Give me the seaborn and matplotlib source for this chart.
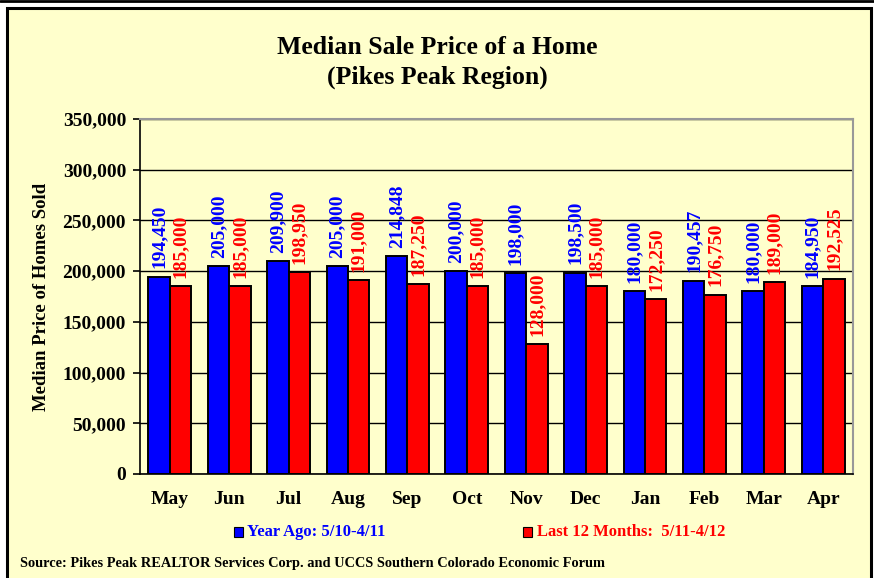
import matplotlib
matplotlib.use("Agg")
import matplotlib.pyplot as plt
import matplotlib.patches as mpatches
import matplotlib.lines as mlines
import numpy as np
import pandas as pd
import seaborn as sns
from matplotlib.ticker import FuncFormatter

months = ["May", "Jun", "Jul", "Aug", "Sep", "Oct", "Nov", "Dec", "Jan", "Feb", "Mar", "Apr"]
year_ago = [194450, 205000, 209900, 205000, 214848, 200000, 198000, 198500, 180000, 190457, 180000, 184950]
last_12 = [185000, 185000, 198950, 191000, 187250, 185000, 128000, 185000, 172250, 176750, 189000, 192525]
series_names = ["Year Ago: 5/10-4/11", "Last 12 Months:  5/11-4/12"]

bg = "#FFFFCC"
blue = "#0000FF"
red = "#FF0000"

df = pd.DataFrame({
    "month": months * 2,
    "price": year_ago + last_12,
    "series": [series_names[0]] * 12 + [series_names[1]] * 12,
})

sns.set_style("white")
plt.rcParams['font.family'] = ['Liberation Serif', 'DejaVu Serif']
plt.rcParams['font.weight'] = 'bold'
plt.rcParams['text.color'] = 'black'
plt.rcParams['xtick.color'] = 'black'
plt.rcParams['ytick.color'] = 'black'
plt.rcParams['axes.labelcolor'] = 'black'

fig = plt.figure(figsize=(8.74, 5.78), dpi=100)
fig.patch.set_facecolor("white")

# outer frame
frame = mpatches.Rectangle((7/874, -0.02), (871-7)/874, 1 - 8/578 + 0.02, transform=fig.transFigure,
                           facecolor=bg, edgecolor="black", linewidth=2.2, zorder=-5)
fig.patches.append(frame)
fig.add_artist(mlines.Line2D([0, 1], [1 - 1/578, 1 - 1/578], color="black", lw=2,
                             transform=fig.transFigure, zorder=-5))

ax = fig.add_axes([140/874, 1 - 474/578, (853-140)/874, (474-119)/578])
ax.set_zorder(2)
ax.set_facecolor(bg)

sns.barplot(data=df, x="month", y="price", hue="series", palette=[blue, red], saturation=1,
            width=0.72, gap=0, ax=ax, edgecolor="black", linewidth=1.4, legend=False, zorder=3)

ax.set_ylim(0, 350000)
ax.set_yticks(np.arange(0, 350001, 50000))
ax.yaxis.set_major_formatter(FuncFormatter(lambda v, p: f"{int(v):,}"))
ax.grid(axis="y", color="black", linewidth=1.0, zorder=0)
ax.set_axisbelow(True)
for s in ["top", "right"]:
    ax.spines[s].set_color("#999999")
    ax.spines[s].set_linewidth(1.5)
for s in ["left", "bottom"]:
    ax.spines[s].set_color("black")
    ax.spines[s].set_linewidth(1.2)
ax.set_xticks(np.arange(-0.5, 12, 1), minor=True)
ax.tick_params(axis="x", which="major", length=0, pad=12, labelsize=14)
ax.tick_params(axis="x", which="minor", length=5, direction="out", color="black", width=1.2)
ax.tick_params(axis="y", length=5, direction="out", color="black", width=1.2, labelsize=14, pad=5, left=True)
for lab in ax.get_xticklabels() + ax.get_yticklabels():
    lab.set_fontweight("bold")
ax.set_xlabel("")
ax.set_ylabel("Median Price of Homes Sold", fontsize=13.5, fontweight="bold")
ax.yaxis.set_label_coords(-0.126, 0.5)

for cont, col in zip(ax.containers, [blue, red]):
    for bar in cont:
        h = bar.get_height()
        ax.annotate(f"{int(h):,}", (bar.get_x() + bar.get_width() / 2, h),
                    xytext=(0, 6), textcoords="offset points", rotation=90,
                    ha="center", va="bottom", color=col, fontsize=14, fontweight="bold")

fig.text(0.5, 1 - 47/578, "Median Sale Price of a Home", ha="center", va="center",
         fontsize=18.5, fontweight="bold")
fig.text(0.5, 1 - 77/578, "(Pikes Peak Region)", ha="center", va="center",
         fontsize=18.5, fontweight="bold")

# legend
fig.add_artist(mpatches.Rectangle((234/874, 1 - 537/578), 9/874, 10/578, transform=fig.transFigure,
                                  facecolor=blue, edgecolor="black", lw=0.8))
fig.text(247/874, 1 - 532/578, series_names[0], color=blue, fontsize=12, ha="left", va="center", fontweight="bold")
fig.add_artist(mpatches.Rectangle((523/874, 1 - 537/578), 9/874, 10/578, transform=fig.transFigure,
                                  facecolor=red, edgecolor="black", lw=0.8))
fig.text(537/874, 1 - 532/578, series_names[1], color=red, fontsize=12, ha="left", va="center", fontweight="bold")

fig.text(20/874, 1 - 563/578, "Source: Pikes Peak REALTOR Services Corp. and UCCS Southern Colorado Economic Forum",
         fontsize=10.4, ha="left", va="center", fontweight="bold")

fig.savefig("out.png", dpi=100, facecolor=fig.get_facecolor())
